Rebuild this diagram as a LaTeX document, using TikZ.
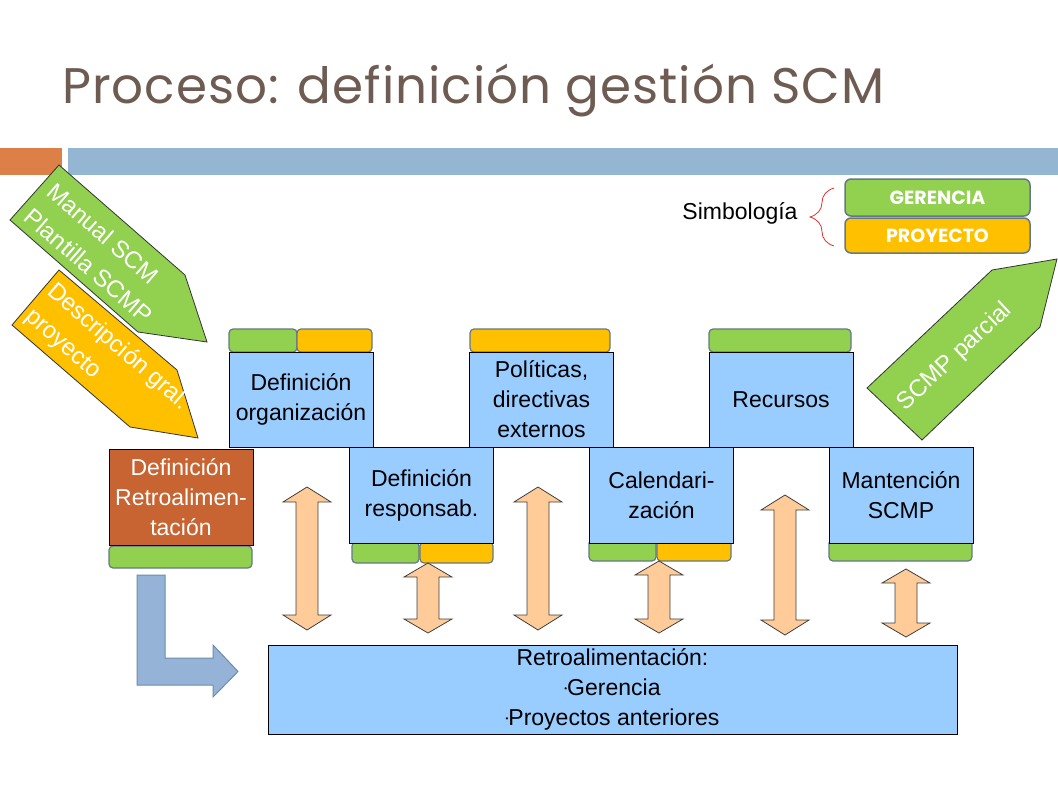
\documentclass[tikz,border=0pt]{standalone}
\usepackage{fontspec}
\setmainfont{Liberation Sans}
\newfontfamily\titlefont{Poppins}[LetterSpace=2]
\newfontfamily\legendfont{Poppins}
\usetikzlibrary{decorations.pathreplacing}
\definecolor{titlecol}{RGB}{110,92,82}
\definecolor{barorange}{RGB}{221,128,71}
\definecolor{barblue}{RGB}{148,182,210}
\definecolor{tgreen}{RGB}{146,208,80}
\definecolor{torange}{RGB}{255,192,0}
\definecolor{boxblue}{RGB}{153,204,255}
\definecolor{brown}{RGB}{200,100,50}
\definecolor{peach}{RGB}{255,204,153}
\definecolor{tabgray}{RGB}{100,120,135}
\definecolor{bentblue}{RGB}{149,179,215}
\definecolor{bentedge}{RGB}{110,140,175}
\definecolor{bracered}{RGB}{225,50,50}
\newcommand\mainfs{\fontsize{23}{30}\selectfont}
\newcommand\bul{\raisebox{0.35ex}{\fontsize{8}{8}\selectfont•}}
\newcommand\dblarr[4]{%
  \draw[darrow] (#1,#2) -- ++(24,#4) -- ++(-13,0) -- (#1+11,#3-#4) -- ++(13,0) -- (#1,#3)
    -- ++(-24,-#4) -- ++(13,0) -- (#1-11,#2+#4) -- ++(-13,0) -- cycle;}
\begin{document}
\begin{tikzpicture}[x=1pt,y=-1pt,
  box/.style={draw=black, line width=0.8pt, fill=boxblue, inner sep=0pt, outer sep=0pt,
    align=center, font=\mainfs, minimum width=144pt, minimum height=96pt},
  tab/.style={draw=tabgray, line width=1.2pt, rounded corners=4pt},
  darrow/.style={draw=black!75, line width=0.8pt, fill=peach, line join=miter},
  bigarrow/.style={draw=black!80, line width=0.8pt},
  arrtext/.style={text=white, font=\fontsize{24}{34}\selectfont, align=left, inner sep=0pt},
  legend/.style={draw=tabgray, line width=1.5pt, rounded corners=6pt, minimum width=185pt,
    inner sep=0pt, text=white, font=\legendfont\bfseries\fontsize{19}{20}\selectfont}]
\useasboundingbox (0,0) rectangle (1058,793);
\fill[white] (0,0) rectangle (1058,793);
% title
\node[anchor=base west, text=titlecol, inner sep=0pt,
  font=\titlefont\fontsize{50}{54}\selectfont] (title) at (62,103) {Proceso: definición gestión SCM};
% header bars
\fill[barorange] (0,148) rectangle (62,175);
\fill[barblue] (68,148) rectangle (1058,175);
% left input arrows
\draw[bigarrow, fill=tgreen] (59,165) -- (185,275) -- (207,342) -- (138,332) -- (10,220) -- cycle;
\node[arrtext, rotate=-41] (manual) at (100,253) {Manual SCM\\Plantilla SCMP};
\draw[bigarrow, fill=torange] (59,270) -- (177,370) -- (198,438) -- (130,427) -- (12,325) -- cycle;
\node[arrtext, rotate=-41] (desc) at (107,360) {Descripción gral.\\proyecto};
% right output arrow
\draw[bigarrow, fill=tgreen] (867,388) -- (992,270) -- (1057,259) -- (1040,327) -- (922,440) -- cycle;
\node[arrtext, rotate=43] (scmp) at (955,357) {SCMP parcial};
% legend
\node[font=\mainfs, inner sep=0pt] (simb) at (740,213) {Simbología};
\draw[bracered, line width=0.8pt, decorate, decoration={brace, amplitude=24pt}] (834,246) -- (834,188);
\node[legend, fill=tgreen, minimum height=37pt] (ger) at (937.5,197.5) {GERENCIA};
\node[legend, fill=torange, minimum height=35pt] (proy) at (937.5,235.5) {PROYECTO};
% top tabs
\draw[tab, fill=tgreen] (229,329) rectangle (297,352);
\draw[tab, fill=torange] (297,329) rectangle (372,352);
\draw[tab, fill=torange] (470,329) rectangle (610,352);
\draw[tab, fill=tgreen] (709,329) rectangle (851,352);
% bottom tabs
\draw[tab, fill=tgreen] (109,546) rectangle (252,568);
\draw[tab, fill=tgreen] (352,542) rectangle (419,563);
\draw[tab, fill=torange] (420,542) rectangle (493,563);
\draw[tab, fill=tgreen] (589,539) rectangle (656,561);
\draw[tab, fill=torange] (657,539) rectangle (731,561);
\draw[tab, fill=tgreen] (829,539) rectangle (972,561);
% boxes
\node[box, minimum height=95pt] (org) at (301,399.5) {Definición\\organización};
\node[box, minimum height=95pt] (pol) at (541.5,399.5) {Políticas,\\directivas\\externos};
\node[box, minimum height=95pt] (rec) at (781,399.5) {Recursos};
\node[box] (resp) at (421.5,495) {Definición\\responsab.};
\node[box] (cal) at (661.5,495) {Calendari-\\zación};
\node[box] (man) at (901,495) {Mantención\\SCMP};
\node[box, fill=brown, text=white] (defretro) at (181,497) {Definición\\Retroalimen-\\tación};
\node[box, minimum width=689pt, minimum height=89pt] (retro) at (612.5,689.5)
  {Retroalimentación:\\\bul Gerencia\\\bul Proyectos anteriores};
% double arrows
\dblarr{307}{487}{630}{15}
\dblarr{428}{563}{633}{14}
\dblarr{538}{487}{630}{15}
\dblarr{659}{561}{633}{14}
\dblarr{785}{495}{635}{15}
\dblarr{906}{569}{637}{14}
% bent arrow
\draw[draw=bentedge, line width=1pt, fill=bentblue] (137,575) -- (165,575) -- (165,658) -- (213,658)
  -- (213,645) -- (238,671.5) -- (213,697) -- (213,685) -- (137,685) -- cycle;
\end{tikzpicture}
\end{document}
